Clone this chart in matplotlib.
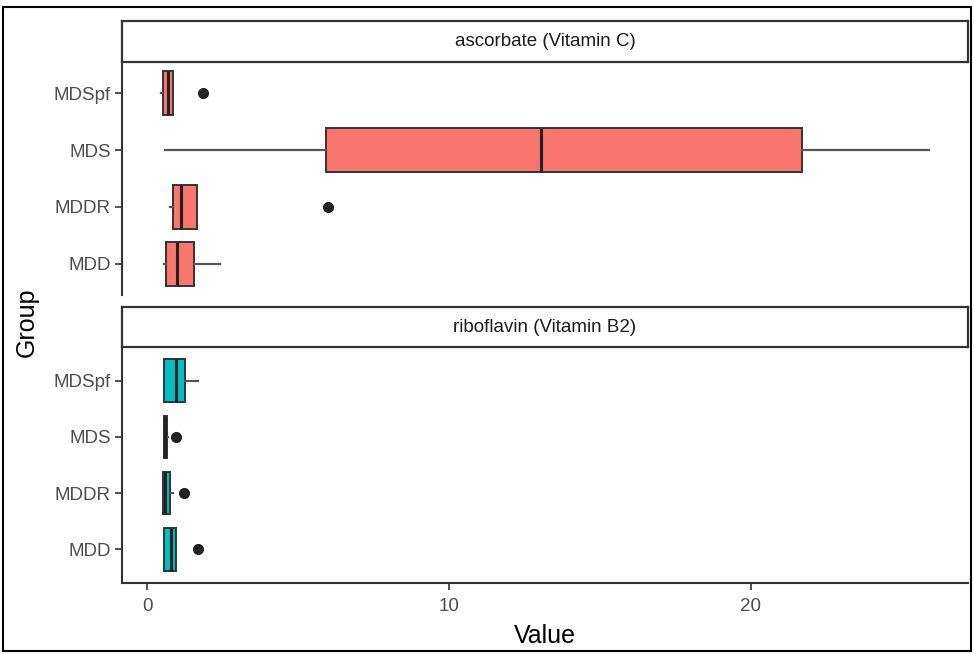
import matplotlib
matplotlib.use("Agg")
import matplotlib.pyplot as plt
from matplotlib.patches import Rectangle

plt.rcParams['font.family'] = ['Liberation Sans', 'DejaVu Sans']

groups = ["MDD", "MDDR", "MDS", "MDSpf"]
panels = ["ascorbate (Vitamin C)", "riboflavin (Vitamin B2)"]
colors = ["#F8766D", "#00BFC4"]

# stats per group: whislo, q1, med, q3, whishi, outliers
vitc_whislo = [0.56, 0.76, 0.60, 0.46]
vitc_q1     = [0.63, 0.86, 5.93, 0.53]
vitc_med    = [0.99, 1.13, 13.05, 0.70]
vitc_q3     = [1.56, 1.66, 21.70, 0.86]
vitc_whishi = [2.42, 1.66, 25.90, 0.86]
vitc_fliers = [[], [6.0], [], [1.85]]

vitb2_whislo = [0.56, 0.53, 0.56, 0.56]
vitb2_q1     = [0.56, 0.53, 0.56, 0.56]
vitb2_med    = [0.80, 0.60, 0.60, 0.96]
vitb2_q3     = [0.96, 0.76, 0.66, 1.26]
vitb2_whishi = [0.96, 0.86, 0.70, 1.69]
vitb2_fliers = [[1.69], [1.23], [0.96], []]

data = [
    (vitc_whislo, vitc_q1, vitc_med, vitc_q3, vitc_whishi, vitc_fliers),
    (vitb2_whislo, vitb2_q1, vitb2_med, vitb2_q3, vitb2_whishi, vitb2_fliers),
]

W, H = 974, 654
fig = plt.figure(figsize=(W / 100, H / 100), dpi=100)

def fx(px): return px / W
def fy(py): return 1 - py / H

left, right = 122, 968
panel_rects = [(62, 295), (347, 583)]
strip_rects = [(21, 62), (307, 347)]
ylims = [(0.455, 4.545), (0.40, 4.60)]

axes = []
for i, (top, bot) in enumerate(panel_rects):
    ax = fig.add_axes([fx(left), fy(bot), fx(right - left), (bot - top) / H])
    wl, q1, md, q3, wh, fl = data[i]
    stats = []
    for g in range(len(groups)):
        stats.append(dict(whislo=wl[g], q1=q1[g], med=md[g], q3=q3[g],
                          whishi=wh[g], fliers=fl[g], label=groups[g]))
    ax.bxp(stats, positions=range(1, 5), vert=False, widths=0.76,
           patch_artist=True, showcaps=False,
           boxprops=dict(facecolor=colors[i], edgecolor="#333333", linewidth=1.4),
           medianprops=dict(color="#222222", linewidth=2.2),
           whiskerprops=dict(color="#555555", linewidth=1.6),
           flierprops=dict(marker="o", markerfacecolor="#222222",
                           markeredgecolor="#222222", markersize=7))
    ax.set_xlim(-0.83, 27.2)
    ax.set_ylim(*ylims[i])
    ax.set_yticks(range(1, 5))
    ax.set_yticklabels(groups)
    for s in ["top", "right"]:
        ax.spines[s].set_visible(False)
    ax.spines["left"].set_color("#333333")
    ax.spines["left"].set_linewidth(1.5)
    ax.tick_params(axis="y", colors="#333333", labelcolor="#4D4D4D",
                   labelsize=13.5, length=5, width=1.2, pad=3)
    if i == 0:
        ax.spines["bottom"].set_visible(False)
        ax.tick_params(axis="x", bottom=False, labelbottom=False)
    else:
        ax.spines["bottom"].set_color("#333333")
        ax.spines["bottom"].set_linewidth(1.5)
        ax.set_xticks([0, 10, 20])
        ax.tick_params(axis="x", colors="#333333", labelcolor="#4D4D4D",
                       labelsize=13.5, length=5, width=1.2, pad=6)
        ax.set_xlabel("Value", fontsize=18, color="black", labelpad=6)
    axes.append(ax)

    st, sb = strip_rects[i]
    sax = fig.add_axes([fx(left), fy(sb), fx(right - left), (sb - st) / H])
    sax.set_xticks([]); sax.set_yticks([])
    for s in sax.spines.values():
        s.set_color("#333333"); s.set_linewidth(1.6)
    sax.text(0.5, 0.5, panels[i], ha="center", va="center", fontsize=13.5,
             color="#1A1A1A", transform=sax.transAxes)

fig.text(fx(27), fy(322), "Group", rotation=90, ha="center", va="center",
         fontsize=18, color="black")

# outer frame of the image
fig.patches.append(Rectangle((fx(3), fy(651)), fx(968), (648 - 4) / H,
                             transform=fig.transFigure, fill=False,
                             edgecolor="black", linewidth=1.5))

fig.savefig("out.png", dpi=100)
